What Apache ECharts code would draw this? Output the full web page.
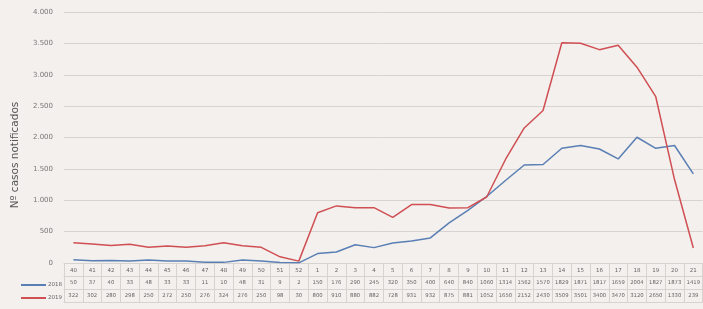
<!DOCTYPE html>
<html>
<head>
<meta charset="utf-8">
<script src="https://cdn.jsdelivr.net/npm/echarts@6/dist/echarts.min.js"></script>
<style>
html, body { margin: 0; padding: 0; background: #f3f0ed; }
#main { width: 703px; height: 309px; }
</style>
</head>
<body>
<div id="main"></div>
<script>
// semanas epidemiologicas 40/2018 a 21/2019
const semanas = ["40","41","42","43","44","45","46","47","48","49","50","51","52",
	"1","2","3","4","5","6","7","8","9","10","11","12","13","14","15","16","17","18","19","20","21"];
const casos2018 = [50, 37, 40, 33, 48, 33, 33, 11, 10, 48, 31, 9, 2,
	150, 176, 290, 245, 320, 350, 400, 640, 840, 1060, 1314, 1562, 1570, 1829, 1871, 1817, 1659, 2004, 1827, 1873, 1419];
const casos2019 = [322, 302, 280, 298, 250, 272, 250, 276, 324, 276, 250, 98, 30,
	800, 910, 880, 882, 728, 931, 932, 875, 881, 1052, 1650, 2152, 2430, 3509, 3501, 3400, 3470, 3120, 2650, 1330, 239];
const yTicks = [0, 500, 1000, 1500, 2000, 2500, 3000, 3500, 4000];
const tituloY = "Nº casos notificados";

const gridLine = "#d6d3d0";
const txt = "#666";

function fmtMiles(v) {
	return String(v).replace(/\B(?=(\d{3})+(?!\d))/g, ".");
}

// filas de la tabla de datos: un eje extra por fila
function filaTabla(valores, offset) {
	return {
		type: "category",
		position: "bottom",
		offset: offset,
		data: valores.map(String),
		axisLine: { show: true, lineStyle: { color: gridLine, width: 1 } },
		axisTick: { show: false },
		axisLabel: { interval: 0, fontSize: 5.3, color: txt, margin: 4, fontFamily: "DejaVu Sans" }
	};
}

var myChart = echarts.init(document.querySelector("#main"));

var option = {
	backgroundColor: "#f3f0ed",
	animation: false,
	grid: { left: 64, top: 12, width: 643, height: 251 },
	// titulo del eje Y, centrado sobre grafico + tabla como en Excel
	graphic: [{
		type: "text",
		x: 15,
		y: 155,
		rotation: Math.PI / 2,
		style: {
			text: tituloY,
			fontSize: 10.5,
			fill: "#555",
			fontFamily: "DejaVu Sans",
			align: "center",
			verticalAlign: "middle"
		}
	}],
	legend: {
		orient: "vertical",
		left: 16,
		top: 277,
		itemGap: 7,
		itemWidth: 25,
		itemHeight: 2,
		icon: "rect",
		textStyle: { fontSize: 5.5, color: txt, fontFamily: "DejaVu Sans", padding: [0, 0, 0, -3] },
		data: ["2018", "2019"]
	},
	xAxis: [
		{
			type: "category",
			position: "bottom",
			data: semanas,
			axisLine: { show: true, lineStyle: { color: gridLine, width: 1 } },
			axisTick: { show: true, interval: 0, length: 39, lineStyle: { color: gridLine } },
			axisLabel: { interval: 0, fontSize: 5.5, color: txt, margin: 5, fontFamily: "DejaVu Sans" }
		},
		filaTabla(casos2018, 13),
		filaTabla(casos2019, 26),
		Object.assign(filaTabla(semanas, 39), { axisLabel: { show: false } })
	],
	yAxis: {
		type: "value",
		min: 0,
		max: 4000,
		interval: 500,
		axisLine: { show: false },
		axisTick: { show: false },
		axisLabel: {
			fontSize: 7, color: "#777", margin: 11, fontFamily: "DejaVu Sans",
			formatter: (v) => yTicks.includes(v) ? fmtMiles(v) : ""
		},
		splitLine: { lineStyle: { color: gridLine, width: 1 } }
	},
	series: [
		{
			name: "2018",
			type: "line",
			xAxisIndex: 0,
			data: casos2018,
			symbol: "none",
			lineStyle: { color: "#5a7fb5", width: 1.5 },
			itemStyle: { color: "#5a7fb5" }
		},
		{
			name: "2019",
			type: "line",
			xAxisIndex: 0,
			data: casos2019,
			symbol: "none",
			lineStyle: { color: "#cf4f53", width: 1.5 },
			itemStyle: { color: "#cf4f53" }
		}
	]
};

myChart.setOption(option);
</script>
</body>
</html>
